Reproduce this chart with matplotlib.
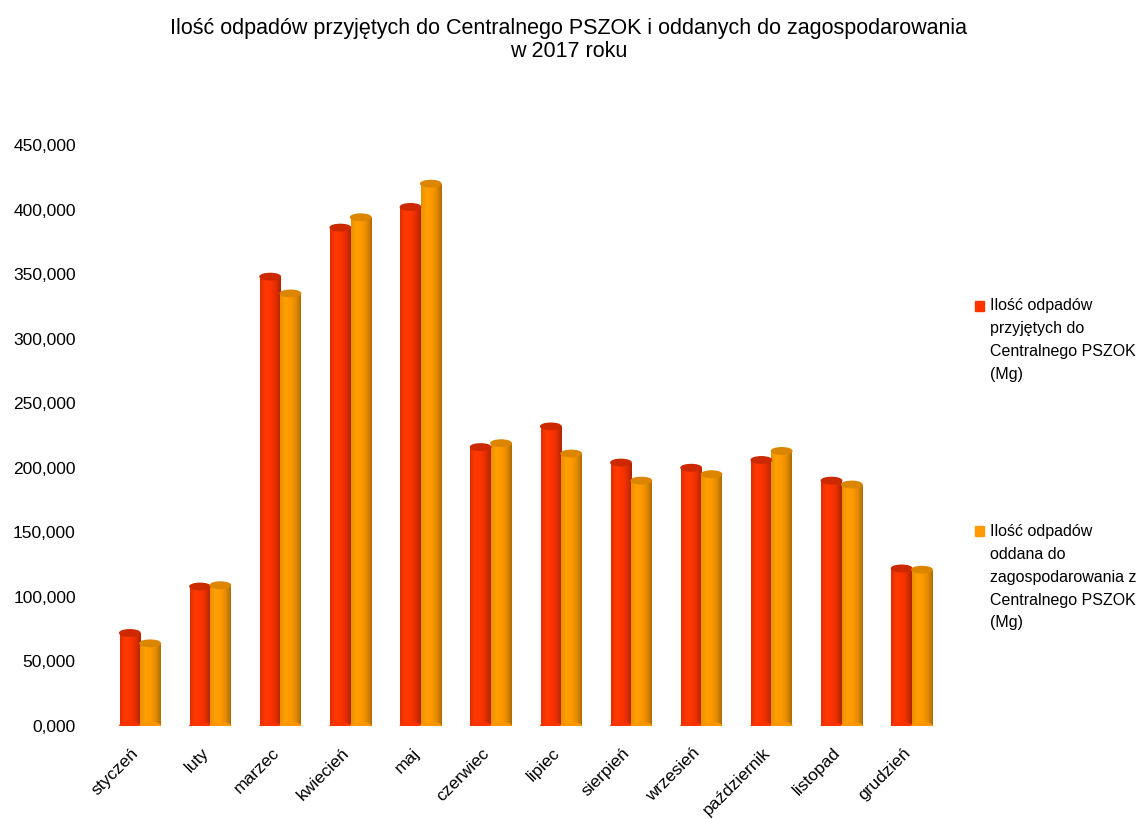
import numpy as np
import matplotlib
matplotlib.use("Agg")
from matplotlib import pyplot as plt
from matplotlib.patches import Ellipse, Rectangle
from matplotlib.colors import LinearSegmentedColormap
from matplotlib.transforms import ScaledTranslation

plt.rcParams['font.family'] = ['Liberation Sans', 'DejaVu Sans']

months = ["styczeń", "luty", "marzec", "kwiecień", "maj", "czerwiec",
          "lipiec", "sierpień", "wrzesień", "październik", "listopad", "grudzień"]
received = [72.0, 108.0, 348.0, 386.0, 402.0, 216.0, 232.0, 204.0, 200.0, 206.0, 190.0, 122.0]
handed_over = [64.0, 109.0, 335.0, 394.0, 420.0, 219.0, 211.0, 190.0, 195.0, 213.0, 187.0, 121.0]

label_received = "Ilość odpadów\nprzyjętych do\nCentralnego PSZOK\n(Mg)"
label_handed = "Ilość odpadów\noddana do\nzagospodarowania z\nCentralnego PSZOK\n(Mg)"

RED = "#ff3300"
ORANGE = "#ff9900"
red_cmap = LinearSegmentedColormap.from_list(
    "red_cyl", ["#e02e00", "#ff3a00", "#ff3300", "#e42e00", "#b02400"])
orange_cmap = LinearSegmentedColormap.from_list(
    "orange_cyl", ["#e89000", "#ffa000", "#ff9900", "#e48c00", "#b06c00"])
red_cap = "#cc2900"
orange_cap = "#dc8600"


def draw_cylinders(ax, x, values, width, cmap, cap_color):
    bars = ax.bar(x, values, width, color="none", edgecolor="none")
    gradient = np.linspace(0, 1, 64).reshape(1, -1)
    cap_h = 5.0
    for rect in bars:
        x0 = rect.get_x()
        w = rect.get_width()
        h = rect.get_height()
        img = ax.imshow(gradient, cmap=cmap, aspect="auto",
                        extent=(x0, x0 + w, 0, h), zorder=2)
        img.set_clip_path(rect)
        ax.add_patch(Ellipse((x0 + w / 2, 0), w, cap_h, color=cmap(0.55), zorder=2))
        ax.add_patch(Ellipse((x0 + w / 2, h), w, cap_h, color=cap_color, zorder=3))
    return bars


fig = plt.figure(figsize=(11.37, 8.19), dpi=100)
ax = fig.add_axes([0.0923, 0.1136, 0.7405, 0.7094])

x = np.arange(len(months))
bw = 0.29
draw_cylinders(ax, x - bw / 2, received, bw, red_cmap, red_cap)
draw_cylinders(ax, x + bw / 2, handed_over, bw, orange_cmap, orange_cap)

ax.set_xlim(-0.5, len(months) - 0.5)
ax.set_ylim(0, 450)
yt = np.arange(0, 451, 50)
ax.set_yticks(yt)
ax.set_yticklabels([f"{v:.3f}".replace(".", ",") for v in yt], fontsize=12.5)
ax.set_xticks(x)
ax.set_xticklabels(months, rotation=45, ha="right", rotation_mode="anchor", fontsize=12.5)
ax.tick_params(axis="both", length=0)
ax.tick_params(axis="y", pad=21)
ax.tick_params(axis="x", pad=14)
shift = ScaledTranslation(-9 / 100, 0, fig.dpi_scale_trans)
for lbl in ax.get_xticklabels():
    lbl.set_transform(lbl.get_transform() + shift)
for s in ax.spines.values():
    s.set_visible(False)

fig.suptitle("Ilość odpadów przyjętych do Centralnego PSZOK i oddanych do zagospodarowania\nw 2017 roku",
             y=0.978, fontsize=15.5, linespacing=1.15)

# legend drawn by hand to keep the wide gap between the two entries
for label, color, ytop, ymark in [(label_received, RED, 0.636, 0.6264),
                                  (label_handed, ORANGE, 0.360, 0.3516)]:
    fig.add_artist(Rectangle((0.8575, ymark - 0.0062), 0.0079, 0.0124,
                             transform=fig.transFigure, color=color))
    fig.text(0.8705, ytop, label, fontsize=11.5, va="top", ha="left", linespacing=1.65)

fig.savefig("out.png", dpi=100)
